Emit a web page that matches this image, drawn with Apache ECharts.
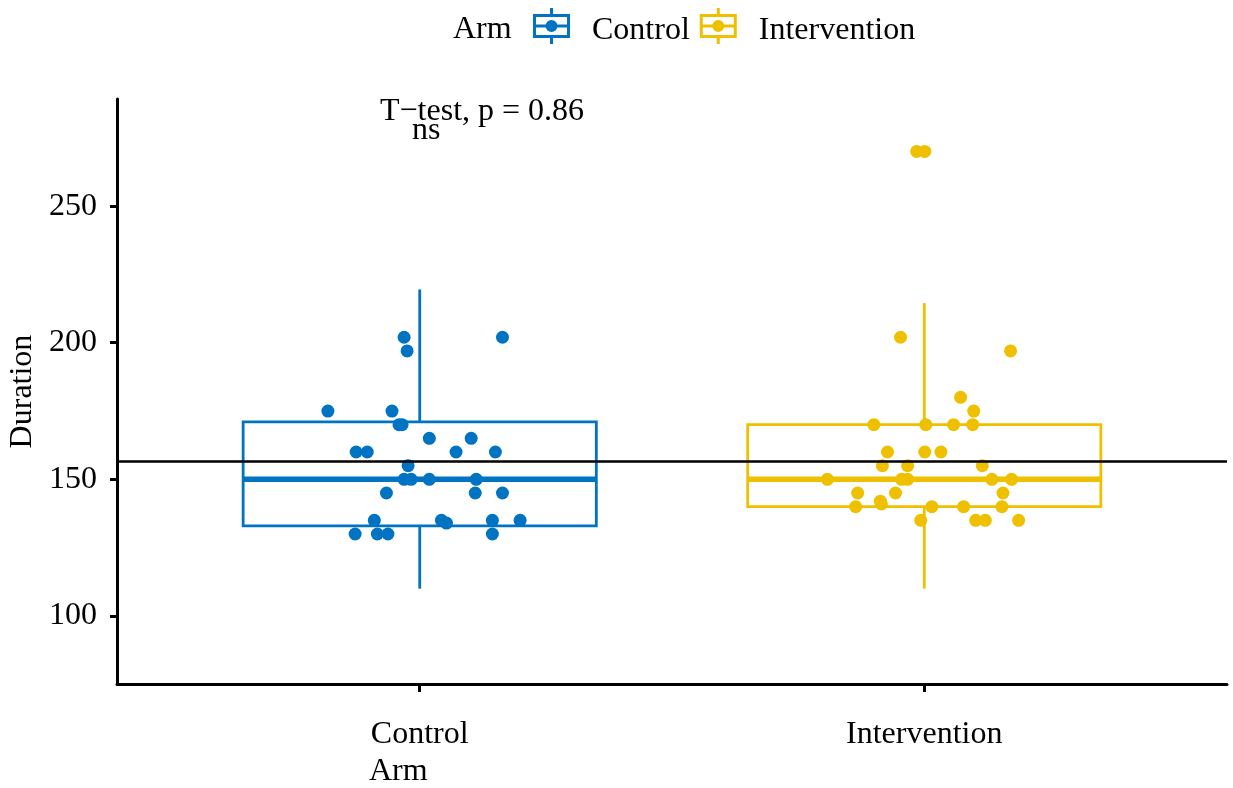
<!DOCTYPE html>
<html>
<head>
<meta charset="utf-8">
<title>Duration by Arm</title>
<script src="https://cdn.jsdelivr.net/npm/echarts@6/dist/echarts.min.js"></script>
<style>
  html, body { margin: 0; padding: 0; background: #fff; }
  #chart { width: 1233px; height: 788px; }
</style>
</head>
<body>
<div id="chart"></div>
<script>
// categories / colours
var arms = ['Control', 'Intervention'];
var armColors = ['#0073C2', '#EFC000'];

// box stats: [lower whisker, Q1, median, Q3, upper whisker]
var boxMin = [110, 110];
var boxQ1 = [133, 140];
var boxMedian = [150, 150];
var boxQ3 = [171, 170];
var boxMax = [219.5, 214.5];

// jittered points (x offset from the category centre, value)
var controlJitter = [-0.031, -0.025, 0.164, -0.182, -0.055, -0.041, -0.035, 0.019, 0.102, -0.126,
  -0.104, 0.072, 0.150, -0.023, -0.031, -0.017, 0.019, 0.112, -0.066, 0.110,
  0.164, -0.090, 0.043, 0.053, 0.144, 0.199, -0.128, -0.084, -0.063, 0.144];
var controlValues = [202, 197, 202, 175, 175, 170, 170, 165, 165, 160,
  160, 160, 160, 155, 150, 150, 150, 150, 145, 145,
  145, 135, 135, 134, 135, 135, 130, 130, 130, 130];

var interventionJitter = [-0.015, 0.001, -0.047, 0.171, 0.072, 0.098, -0.100, 0.003, 0.058, 0.096,
  -0.073, 0.001, 0.033, -0.083, -0.033, 0.115, -0.192, -0.045, -0.033, 0.134,
  0.173, -0.132, -0.057, 0.156, -0.087, -0.136, -0.085, 0.015, 0.078, 0.154,
  -0.007, 0.102, 0.121, 0.187];
var interventionValues = [270, 270, 202, 197, 180, 175, 170, 170, 170, 170,
  160, 160, 160, 155, 155, 155, 150, 150, 150, 150,
  150, 145, 145, 145, 142, 140, 141, 140, 140, 140,
  135, 135, 135, 135];

var refLine = 156.8;
var yTicks = [100, 150, 200, 250];

var FONT = 'Liberation Serif';

function toPoints(pos, jitter, values) {
  return values.map(function (v, i) { return [pos + jitter[i], v]; });
}

var boxData = arms.map(function (a, i) {
  return [i + 1, boxMin[i], boxQ1[i], boxMedian[i], boxQ3[i], boxMax[i]];
});

// legend icon: little box with whiskers and a dot
// (the last zero-size piece only stretches the bbox so the text sits a bit lower)
var legendIcon = 'path://M0 6H37V9H0Z M0 27H37V30H0Z M0 6H3V30H0Z M34 6H37V30H34Z ' +
  'M0 16.5H37V19.5H0Z M17 0H20V6H17Z M17 30H20V36H17Z ' +
  'M12.5 18A6 6 0 1 1 24.5 18A6 6 0 1 1 12.5 18Z M18 46L18.001 46Z';

var chart = echarts.init(document.getElementById('chart'));

var option = {
  animation: false,
  backgroundColor: '#fff',
  textStyle: { fontFamily: FONT },
  grid: { left: 117, right: 6, top: 99, bottom: 104, outerBoundsMode: 'none' },
  legend: {
    data: arms,
    icon: legendIcon,
    itemWidth: 37,
    itemHeight: 46,
    itemGap: 10,
    left: 533,
    top: 8,
    padding: 0,
    textStyle: { fontFamily: FONT, fontSize: 32, color: '#000', padding: [0, 0, 0, 17] }
  },
  xAxis: {
    type: 'value',
    min: 0.4,
    max: 2.6,
    splitLine: { show: false },
    axisLine: { lineStyle: { color: '#000', width: 3 } },
    axisTick: { customValues: [1, 2], length: 8, lineStyle: { color: '#000', width: 3 } },
    axisLabel: {
      customValues: [1, 2],
      margin: 35,
      fontFamily: FONT,
      fontSize: 32,
      color: '#000',
      formatter: function (v) { return arms[Math.round(v) - 1] || ''; }
    }
  },
  yAxis: {
    type: 'value',
    min: 75.1,
    max: 289.2,
    name: 'Duration',
    nameLocation: 'middle',
    nameRotate: 90,
    nameGap: 77,
    nameTextStyle: { fontFamily: FONT, fontSize: 32, color: '#000' },
    splitLine: { show: false },
    axisLine: { show: true, lineStyle: { color: '#000', width: 3 } },
    axisTick: { show: true, customValues: yTicks, length: 7, lineStyle: { color: '#000', width: 3 } },
    axisLabel: { customValues: yTicks, margin: 20, fontFamily: FONT, fontSize: 32, color: '#000' }
  },
  graphic: [
    { type: 'text', x: 453, y: 29.5, style: { text: 'Arm', font: '32px "Liberation Serif"', fill: '#000', verticalAlign: 'middle' } },
    { type: 'text', x: 369, y: 772, style: { text: 'Arm', font: '32px "Liberation Serif"', fill: '#000', verticalAlign: 'middle' } },
    { type: 'text', x: 380, y: 111.5, style: { text: 'T\u2212test, p = 0.86', font: '32px "Liberation Serif"', fill: '#000', verticalAlign: 'middle' } },
    { type: 'text', x: 412, y: 130.5, style: { text: 'ns', font: '32px "Liberation Serif"', fill: '#000', verticalAlign: 'middle' } }
  ],
  series: [
    {
      name: 'boxes',
      type: 'custom',
      z: 1,
      data: boxData,
      encode: { x: 0, y: [1, 2, 3, 4, 5] },
      renderItem: function (params, api) {
        var x = api.value(0);
        var half = api.size([0.7, 0])[0] / 2;
        var pMin = api.coord([x, api.value(1)]);
        var pQ1 = api.coord([x, api.value(2)]);
        var pMed = api.coord([x, api.value(3)]);
        var pQ3 = api.coord([x, api.value(4)]);
        var pMax = api.coord([x, api.value(5)]);
        var c = armColors[params.dataIndex];
        var thin = { stroke: c, lineWidth: 2.8, fill: null };
        return {
          type: 'group',
          children: [
            { type: 'line', shape: { x1: pMin[0], y1: pMin[1], x2: pQ1[0], y2: pQ1[1] }, style: thin },
            { type: 'line', shape: { x1: pQ3[0], y1: pQ3[1], x2: pMax[0], y2: pMax[1] }, style: thin },
            { type: 'rect', shape: { x: pQ1[0] - half, y: pQ3[1], width: half * 2, height: pQ1[1] - pQ3[1] }, style: thin },
            { type: 'line', shape: { x1: pMed[0] - half, y1: pMed[1], x2: pMed[0] + half, y2: pMed[1] }, style: { stroke: c, lineWidth: 5.5 } }
          ]
        };
      }
    },
    {
      name: 'Control',
      type: 'scatter',
      z: 3,
      symbol: 'circle',
      symbolSize: 13,
      itemStyle: { color: armColors[0], opacity: 1 },
      data: toPoints(1, controlJitter, controlValues),
      markLine: {
        silent: true,
        symbol: 'none',
        label: { show: false },
        lineStyle: { color: '#000', width: 2.6, type: 'solid' },
        data: [{ yAxis: refLine }]
      }
    },
    {
      name: 'Intervention',
      type: 'scatter',
      z: 3,
      symbol: 'circle',
      symbolSize: 13,
      itemStyle: { color: armColors[1], opacity: 1 },
      data: toPoints(2, interventionJitter, interventionValues)
    }
  ]
};

chart.setOption(option);
</script>
</body>
</html>
